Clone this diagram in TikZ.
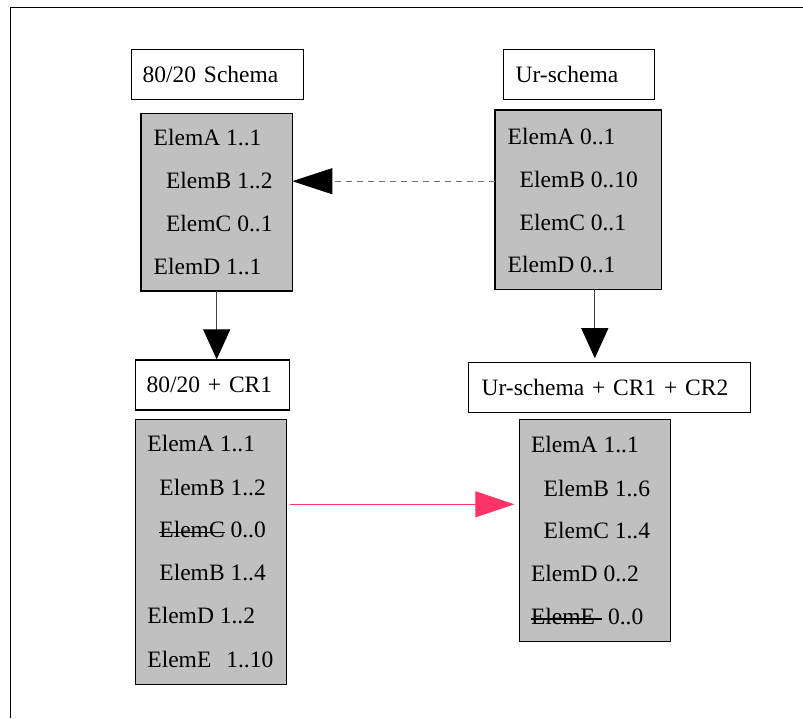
\documentclass[tikz,border=0pt]{standalone}
\usepackage{fontspec}
\setmainfont{Liberation Serif}
\usetikzlibrary{arrows.meta}
\definecolor{boxgray}{HTML}{C0C0C0}
\definecolor{hotpink}{RGB}{255,51,102}
\definecolor{dashgray}{HTML}{707070}
% strike a word through
\newcommand\strk[1]{\setbox0=\hbox{#1}\rlap{\rule[0.19em]{\wd0}{0.8pt}}\box0\relax}
\begin{document}
\begin{tikzpicture}[x=0.5pt,y=-0.5pt,
  every node/.style={font=\fontsize{11.75pt}{14pt}\selectfont},
  title/.style={draw,line width=0.6pt,anchor=west,align=left,
    minimum height=25pt,text height=10pt,text depth=2.3pt,inner ysep=0pt},
  gbox/.style={draw,line width=0.6pt,fill=boxgray,inner sep=0pt,outer sep=0pt},
  row/.style={anchor=base west,inner sep=0pt},
  flow/.style={line width=0.5pt,draw=black!75,
    -{Triangle[length=15pt,width=13.5pt,color=black,fill=black]}},
  back/.style={line width=0.5pt,draw=dashgray,dash pattern=on 3pt off 2.5pt,
    -{Triangle[length=20pt,width=13pt,color=black,fill=black]}},
  change/.style={line width=0.6pt,draw=hotpink,
    -{Triangle[length=19.5pt,width=13pt,color=hotpink,fill=hotpink]}}]
\useasboundingbox (0,0) rectangle (803,718);

% page frame
\coordinate (frameTR) at (803,7.3);
\coordinate (frameTL) at (10.7,7.3);
\coordinate (frameBL) at (10.7,718);
\draw[line width=0.65pt] (frameTR) -- (frameTL) -- (frameBL);

% titles
\node[title,minimum width=86pt,inner xsep=5.5pt,text width=75pt] (t1) at (131,74.3) {80/20 Schema};
\node[title,minimum width=75.5pt,inner xsep=6.15pt,text width=63.2pt] (t2) at (502.7,74.3) {Ur-schema};
\node[title,minimum width=77pt,inner xsep=5.5pt,text width=66pt] (t3) at (135,385) {80/20 + CR1};
\node[title,minimum width=141pt,inner xsep=6.5pt,text width=128pt] (t4) at (468,387.8) {Ur-schema + CR1 + CR2};

% element boxes
\node[gbox,minimum width=75.65pt,minimum height=88.85pt] (g1) at (216.7,202.2) {};
\node[gbox,minimum width=83.35pt,minimum height=89.65pt] (g2) at (578.3,199.7) {};
\node[gbox,minimum width=75.5pt,minimum height=132.5pt] (g3) at (210.8,551.8) {};
\node[gbox,minimum width=75.5pt,minimum height=111.2pt] (g4) at (594.8,530.5) {};

% 80/20 schema
\node[row] (r1a) at (153.3,145.7) {ElemA 1..1};
\node[row] (r1b) at (165.7,188.3) {ElemB 1..2};
\node[row] (r1c) at (165.7,231.7) {ElemC 0..1};
\node[row] (r1d) at (153.3,274.3) {ElemD 1..1};

% Ur-schema
\node[row] (r2a) at (507.3,144.3) {ElemA 0..1};
\node[row] (r2b) at (519.3,187) {ElemB 0..10};
\node[row] (r2c) at (519.3,230) {ElemC 0..1};
\node[row] (r2d) at (507.3,272.7) {ElemD 0..1};

% 80/20 + CR1
\node[row] (r3a) at (147,451.7) {ElemA 1..1};
\node[row] (r3b) at (159,495) {ElemB 1..2};
\node[row] (r3c) at (159,537.7) {\strk{ElemC} 0..0};
\node[row] (r3d) at (159,580.7) {ElemB 1..4};
\node[row] (r3e) at (147,623) {ElemD 1..2};
\node[row] (r3f) at (147,667) {ElemE\kern7.5pt 1..10};

% Ur-schema + CR1 + CR2
\node[row] (r4a) at (530.7,452.7) {ElemA 1..1};
\node[row] (r4b) at (543.3,496) {ElemB 1..6};
\node[row] (r4c) at (543.3,538.7) {ElemC 1..4};
\node[row] (r4d) at (530.7,581) {ElemD 0..2};
\node[row] (r4e) at (530.7,624.3) {\strk{ElemE\kern3.5pt}\kern3pt 0..0};

% connectors
\coordinate (dashY) at (400,181.2);
\coordinate (pinkY) at (400,504.3);
\draw[back] (g2.west |- dashY) -- (g1.east |- dashY);
\draw[flow] (g1.south) -- (g1.south |- t3.north);
\draw[flow,shorten >=2pt] (g2.south -| g4.north) -- (t4.north -| g4.north);
\draw[change,shorten <=2pt,shorten >=2.5pt] (g3.east |- pinkY) -- (g4.west |- pinkY);
\end{tikzpicture}
\end{document}
